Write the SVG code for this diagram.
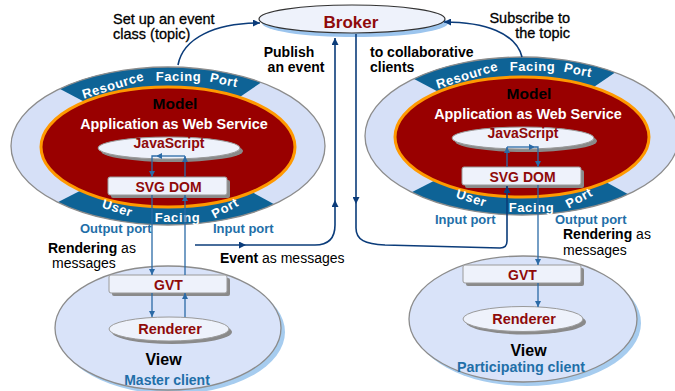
<svg xmlns="http://www.w3.org/2000/svg" width="675" height="391" viewBox="0 0 675 391">
<defs>
<style>
text{font-family:"Liberation Sans",Arial,sans-serif}
.b{font-weight:bold}
.lbl{font-size:14px;fill:#000}
.lblr{font-size:14.5px;fill:#000;stroke:#000;stroke-width:0.3}
.band{font-size:13px;font-weight:bold;fill:#fff;letter-spacing:0.6px;text-anchor:middle}
.port{font-size:13px;font-weight:bold;fill:#1f6fa8}
.dr{fill:#8f0a0a;font-weight:bold;text-anchor:middle}
.outer{fill:#d6e0f7;stroke:none}
.outerStroke{fill:none;stroke:#8c8c8c;stroke-width:1.3}
.wedge{fill:#0e6396}
.red{fill:#990000;stroke:#ff9900;stroke-width:3}
.pale{fill:#eef2fb;stroke:#9a9a9a;stroke-width:1}
.shadow{fill:#8a8a8a}
.view{fill:#d9e3f9;stroke:#8c8c8c;stroke-width:1.3}
.viewShadow{fill:#a6ccef}
.navy{fill:none;stroke:#0b3c7a;stroke-width:1.6}
.blue{fill:none;stroke:#2a6aa6;stroke-width:1.3}
</style>
<marker id="aN" viewBox="0 0 8 8" refX="8" refY="4" markerWidth="7" markerHeight="7" markerUnits="userSpaceOnUse" orient="auto">
<path d="M0,0 L8,4 L0,8 z" fill="#0b3c7a"/>
</marker>
<marker id="aB" viewBox="0 0 8 8" refX="8" refY="4" markerWidth="6" markerHeight="6" markerUnits="userSpaceOnUse" orient="auto">
<path d="M0,0 L8,4 L0,8 z" fill="#2a6aa6"/>
</marker>
</defs>

<rect width="675" height="391" fill="#fff"/>

<g id="broker">
<ellipse cx="355" cy="23" rx="93" ry="14" fill="#9cc5ee"/>
<ellipse cx="352" cy="19" rx="93" ry="14" fill="#eef2fb" stroke="#333" stroke-width="1.2"/>
<text x="351" y="28" class="dr" font-size="17">Broker</text>
</g>

<g id="view-master">
<ellipse cx="172" cy="332" rx="113" ry="62" class="viewShadow"/>
<ellipse cx="168" cy="328" rx="113" ry="62" class="view"/>
<text x="163.5" y="365" class="b" font-size="16" text-anchor="middle">View</text>
<text x="167" y="385" class="b" font-size="14" fill="#1f6fa8" text-anchor="middle">Master client</text>
</g>
<g id="gvt-master">
<rect x="112" y="278" width="118" height="18" rx="2" class="shadow"/>
<rect x="109" y="275" width="118" height="18" rx="2" class="pale"/>
<text x="168.5" y="289.5" class="dr" font-size="14">GVT</text>
</g>
<g id="renderer-master">
<ellipse cx="172" cy="332" rx="60" ry="12" class="shadow"/>
<ellipse cx="169" cy="329" rx="60" ry="12" class="pale"/>
<text x="170" y="334" class="dr" font-size="14.5">Renderer</text>
</g>

<g id="view-participating">
<ellipse cx="527" cy="323" rx="114" ry="63" class="viewShadow"/>
<ellipse cx="523" cy="319" rx="114" ry="63" class="view"/>
<text x="528.5" y="356" class="b" font-size="16" text-anchor="middle">View</text>
<text x="521" y="372" class="b" font-size="14.3" fill="#1f6fa8" text-anchor="middle">Participating client</text>
</g>
<g id="gvt-participating">
<rect x="466" y="268" width="118" height="18" rx="2" class="shadow"/>
<rect x="463" y="265" width="118" height="18" rx="2" class="pale"/>
<text x="522.5" y="279.5" class="dr" font-size="14">GVT</text>
</g>
<g id="renderer-participating">
<ellipse cx="526" cy="322" rx="60" ry="12.5" class="shadow"/>
<ellipse cx="523" cy="319" rx="60" ry="12.5" class="pale"/>
<text x="524" y="324" class="dr" font-size="14.5">Renderer</text>
</g>

<g id="model-master">
<ellipse cx="168" cy="146" rx="157" ry="79" class="outer"/>
<path d="M168,146 L59.6,88.8 A157,79 0 0 1 261.1,82.4 Z" class="wedge"/>
<path d="M168,146 L274.2,204.2 A157,79 0 0 1 57.7,202.2 Z" class="wedge"/>
<ellipse cx="168" cy="146" rx="157" ry="79" class="outerStroke"/>
<ellipse cx="168" cy="147" rx="127" ry="60" class="red"/>
<text class="band" transform="translate(113,85) rotate(-17)" y="4.5">Resource</text>
<text class="band" x="178.5" y="81">Facing</text>
<text class="band" transform="translate(224,80) rotate(12)" y="4.5">Port</text>
<text class="band" transform="translate(117.5,208) rotate(18)" y="4.5">User</text>
<text class="band" x="177.5" y="222">Facing</text>
<text class="band" transform="translate(225,208) rotate(-28)" y="4.5">Port</text>
<text x="175" y="109" class="b" font-size="15.5" text-anchor="middle">Model</text>
<text x="174" y="128.5" class="b" font-size="14.4" fill="#fff" text-anchor="middle">Application as Web Service</text>
<g id="javascript-master">
<ellipse cx="172" cy="151" rx="71" ry="11" class="shadow"/>
<ellipse cx="169" cy="148" rx="71" ry="11" class="pale"/>
<text x="169" y="148" class="dr" font-size="14">JavaScript</text>
</g>
<g id="svgdom-master">
<rect x="111" y="180" width="119" height="18" rx="2" class="shadow"/>
<rect x="108" y="177" width="119" height="18" rx="2" class="pale"/>
<text x="168.5" y="191.5" class="dr" font-size="14">SVG DOM</text>
</g>
</g>

<g id="model-participating" transform="translate(354,-10)">
<ellipse cx="168" cy="146" rx="157" ry="79" class="outer"/>
<path d="M168,146 L59.6,88.8 A157,79 0 0 1 261.1,82.4 Z" class="wedge"/>
<path d="M168,146 L274.2,204.2 A157,79 0 0 1 57.7,202.2 Z" class="wedge"/>
<ellipse cx="168" cy="146" rx="157" ry="79" class="outerStroke"/>
<ellipse cx="168" cy="147" rx="127" ry="60" class="red"/>
<text class="band" transform="translate(113,85) rotate(-17)" y="4.5">Resource</text>
<text class="band" x="178.5" y="81">Facing</text>
<text class="band" transform="translate(224,80) rotate(12)" y="4.5">Port</text>
<text class="band" transform="translate(117.5,208) rotate(18)" y="4.5">User</text>
<text class="band" x="177.5" y="222">Facing</text>
<text class="band" transform="translate(225,208) rotate(-28)" y="4.5">Port</text>
<text x="175" y="109" class="b" font-size="15.5" text-anchor="middle">Model</text>
<text x="174" y="128.5" class="b" font-size="14.4" fill="#fff" text-anchor="middle">Application as Web Service</text>
<g id="javascript-participating">
<ellipse cx="172" cy="151" rx="71" ry="11" class="shadow"/>
<ellipse cx="169" cy="148" rx="71" ry="11" class="pale"/>
<text x="169" y="148" class="dr" font-size="14">JavaScript</text>
</g>
<g id="svgdom-participating">
<rect x="111" y="180" width="119" height="18" rx="2" class="shadow"/>
<rect x="108" y="177" width="119" height="18" rx="2" class="pale"/>
<text x="168.5" y="191.5" class="dr" font-size="14">SVG DOM</text>
</g>
</g>

<g id="connectors">
<path d="M178,65 C183,38 215,23 260,23" class="navy" marker-end="url(#aN)"/>
<path d="M522,57 C516,33 485,22 444,22" class="navy" marker-end="url(#aN)"/>
<path d="M195,245 L246,245" class="navy" marker-end="url(#aN)"/>
<path d="M246,245 L315,245 Q335,245 335,225 L335,200" class="navy" marker-end="url(#aN)"/>
<path d="M335,200 L335,38" class="navy" marker-end="url(#aN)"/>
<path d="M356,34 L356,204" class="navy" marker-end="url(#aN)"/>
<path d="M356,204 L356,228 C356,240 365,244 385,245 L500,248 Q507,248 507,241 L507,186" class="navy" marker-end="url(#aN)"/>

<path d="M185,177 L185,156" class="blue" marker-end="url(#aB)"/>
<path d="M185,156 L156,156" class="blue" marker-end="url(#aB)"/>
<path d="M156,156 L152,156 L152,177" class="blue" marker-end="url(#aB)"/>
<path d="M152,195 L152,275" class="blue" marker-end="url(#aB)"/>
<path d="M152,293 L152,317" class="blue" marker-end="url(#aB)"/>
<path d="M185,317 L185,293" class="blue" marker-end="url(#aB)"/>
<path d="M185,275 L185,195" class="blue" marker-end="url(#aB)"/>

<path d="M507,167 L507,147" class="blue" marker-end="url(#aB)"/>
<path d="M507,147 L535,147" class="blue" marker-end="url(#aB)"/>
<path d="M535,147 L538,147 L538,167" class="blue" marker-end="url(#aB)"/>
<path d="M538,185 L538,265" class="blue" marker-end="url(#aB)"/>
<path d="M538,283 L538,307" class="blue" marker-end="url(#aB)"/>
</g>

<g id="labels">
<text x="113" y="24" class="lblr">Set up an event</text>
<text x="113" y="39" class="lblr">class (topic)</text>
<text x="570" y="23" class="lblr" text-anchor="end">Subscribe to</text>
<text x="570" y="38" class="lblr" text-anchor="end">the topic</text>
<text x="289" y="57" class="lbl b" text-anchor="middle">Publish</text>
<text x="296" y="72" class="lbl b" text-anchor="middle">an event</text>
<text x="370" y="57" class="lbl b">to collaborative</text>
<text x="370" y="72" class="lbl b">clients</text>
<text x="80" y="232.5" class="port">Output port</text>
<text x="213" y="232.5" class="port">Input port</text>
<text x="435" y="224" class="port">Input port</text>
<text x="555" y="224" class="port">Output port</text>
<text x="48" y="253" class="lbl"><tspan class="b">Rendering</tspan> as</text>
<text x="52" y="268" class="lbl">messages</text>
<text x="220" y="263" class="lbl"><tspan class="b">Event</tspan> as messages</text>
<text x="563" y="239" class="lbl"><tspan class="b">Rendering</tspan> as</text>
<text x="563" y="255" class="lbl">messages</text>
</g>
</svg>
